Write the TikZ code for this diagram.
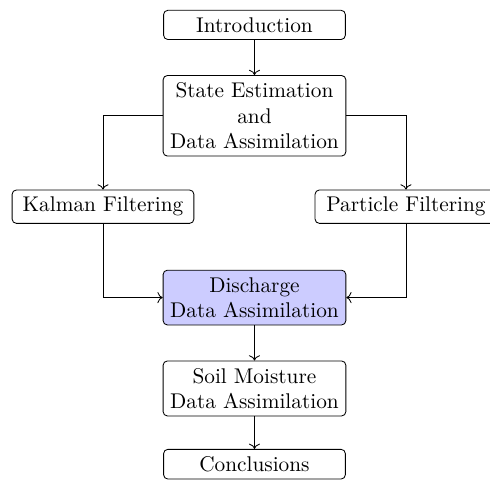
\documentclass[tikz,border=0pt]{standalone}
\usepackage{tikz}
\usetikzlibrary{arrows.meta, positioning}

\begin{document}
\begin{tikzpicture}[
    node distance=0.6cm,
    box/.style={rectangle, draw, minimum width=3cm, rounded corners=2pt, align=center},
    focus/.style={box, fill=blue!20}
]
\useasboundingbox (-4.2,-7.525) rectangle (3.887,0.411);

% Main chain
\node[box] (intro) at (0,0) {Introduction};
\node[box] (state) at (0,-1.5) {State Estimation\\and\\Data Assimilation};
\node[focus] (discharge) at (0,-4.5) {Discharge\\Data Assimilation};
\node[box] (soil) at (0,-6) {Soil Moisture\\Data Assimilation};
\node[box] (concl) at (0,-7.25) {Conclusions};

% Filtering methods
\node[box] (kalman) at (-2.5,-3) {Kalman Filtering};
\node[box] (particle) at (2.5,-3) {Particle Filtering};

% Arrows
\draw[->] (intro) -- (state);
\draw[->] (state.west) -| (kalman.north);
\draw[->] (state.east) -| (particle.north);
\draw[->] (kalman.south) |- (discharge.west);
\draw[->] (particle.south) |- (discharge.east);
\draw[->] (discharge) -- (soil);
\draw[->] (soil) -- (concl);

\end{tikzpicture}
\end{document}
